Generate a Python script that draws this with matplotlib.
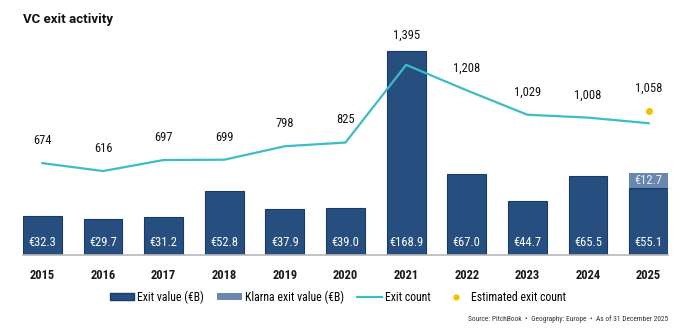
import matplotlib
matplotlib.use("Agg")
import matplotlib.pyplot as plt
from matplotlib.patches import Patch
from matplotlib.lines import Line2D

years = ["2015", "2016", "2017", "2018", "2019", "2020", "2021", "2022", "2023", "2024", "2025"]
exit_value = [32.3, 29.7, 31.2, 52.8, 37.9, 39.0, 168.9, 67.0, 44.7, 65.5, 55.1]
klarna_value = [0, 0, 0, 0, 0, 0, 0, 0, 0, 0, 12.7]
exit_count = [674, 616, 697, 699, 798, 825, 1395, 1208, 1029, 1008, 967]
estimated_count = [None] * 10 + [1058]
count_labels = ["674", "616", "697", "699", "798", "825", "1,395", "1,208", "1,029", "1,008", "1,058"]

plt.rcParams['font.family'] = ["Roboto Condensed", "DejaVu Sans"]
SZ = 9.0

NAVY = "#264f80"
NAVY_EDGE = "#173a6a"
KLARNA = "#6a88ad"
TEAL = "#3cbcc4"
GOLD = "#f2c200"

fig = plt.figure(figsize=(6.9, 3.32), dpi=100)
ax = fig.add_axes([23/690, 77/332, 645/690, 241.6/332])
x = list(range(len(years)))
w = 0.64
ax.bar(x, exit_value, width=w, color=NAVY, edgecolor=NAVY_EDGE, linewidth=0.8, zorder=2)
ax.bar(x, klarna_value, width=w, bottom=exit_value, color=KLARNA, edgecolor="none", zorder=2)
ax.set_xlim(-0.5 + (1 - w) / 2, len(years) - 0.5 - (1 - w) / 2)
ax.set_ylim(0, 200)
for s in ["top", "right", "left"]:
    ax.spines[s].set_visible(False)
ax.spines["bottom"].set_color("#b8b8b8")
ax.spines["bottom"].set_linewidth(1.2)
ax.set_yticks([])
ax.set_xticks(x)
ax.set_xticklabels(years, fontsize=SZ, fontweight="bold", color="#1a1a1a")
ax.tick_params(axis="x", length=0, pad=10)

for i, v in enumerate(exit_value):
    ax.text(i, 10, f"€{v:.1f}", ha="center", va="center", color="white", fontsize=SZ, zorder=3)
for i, v in enumerate(klarna_value):
    if v:
        ax.text(i, exit_value[i] + v / 2, f"€{v:.1f}", ha="center", va="center", color="#e8eef5", fontsize=SZ, zorder=3)

ax2 = ax.twinx()
ax2.set_ylim(0, 200 * (1.208 / 0.1363))
ax2.axis("off")
ax2.plot(x, exit_count, color=TEAL, linewidth=1.6, zorder=4)
ex = [i for i, v in enumerate(estimated_count) if v is not None]
ey = [v for v in estimated_count if v is not None]
ax2.scatter(ex, ey, s=26, color=GOLD, zorder=5, linewidths=0)

scale = ax2.get_ylim()[1] / 200
for i, lab in enumerate(count_labels):
    yv = estimated_count[i] if estimated_count[i] is not None else exit_count[i]
    yl = yv + 118
    bar_top = (exit_value[i] + klarna_value[i]) * scale
    if yl < bar_top + 70:
        yl = bar_top + 70
    ax2.text(i, yl, lab, ha="center", va="bottom", fontsize=SZ, color="#111111")

fig.text(23/690, 1 - 19/332, "VC exit activity", fontsize=9.5, fontweight="bold",
         family=["Roboto", "DejaVu Sans"], va="center", ha="left", color="#111111")

handles = [Patch(facecolor=NAVY, edgecolor=NAVY_EDGE),
           Patch(facecolor=KLARNA, edgecolor="none"),
           Line2D([0], [0], color=TEAL, lw=1.6),
           Line2D([0], [0], marker="o", color="none", markerfacecolor=GOLD, markeredgecolor="none", markersize=4.5)]
labels = ["Exit value (€B)", "Klarna exit value (€B)", "Exit count", "Estimated exit count"]
fig.legend(handles, labels, loc="center", bbox_to_anchor=(338/690, 1 - 297/332), ncol=4,
           frameon=False, prop={"size": 8.5}, handlelength=2.1,
           handleheight=0.45, handletextpad=0.25, columnspacing=1.1)

fig.text(668/690, 1 - 319/332, "Source: PitchBook  •  Geography: Europe  •  As of 31 December 2025",
         fontsize=5.3, ha="right", va="center", color="#333333")

fig.savefig("out.png", dpi=100)
